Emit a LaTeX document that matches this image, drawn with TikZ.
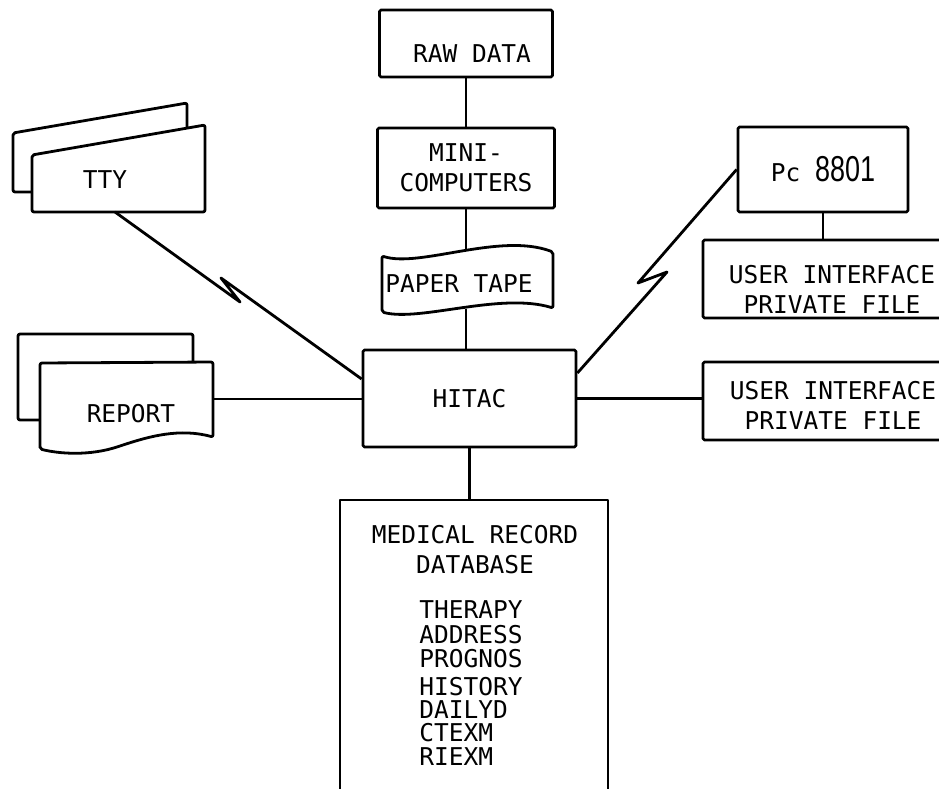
\documentclass[tikz,border=0pt]{standalone}
\usepackage{fontspec}
\setmonofont{DejaVu Sans Mono}
\newfontfamily\digitfont{Liberation Sans}
\usepackage{graphicx}

\begin{document}
\begin{tikzpicture}[x=1pt, y=-1pt, line width=2.8pt, line join=round,
    font=\ttfamily\fontsize{24.5}{30}\selectfont,
    box/.style={rectangle, draw, rounded corners=1.5pt, inner sep=0pt, align=center},
    txt/.style={inner sep=0pt, align=center},
    sheet/.style={draw, rounded corners=2pt, fill=white}
]
    \useasboundingbox (0,0) rectangle (939,789);
    \clip (0,0) rectangle (939,789);

    % centre column
    \node[box, minimum width=173pt, minimum height=67pt] (raw) at (466,43.5) {};
    \node[txt] (rawtext) at (472,54) {RAW DATA};
    \node[box, minimum width=177pt, minimum height=80pt] (mini) at (466,168) {MINI-\\COMPUTERS};
    \node[minimum width=171pt, minimum height=57pt] (tape) at (466,279.5) {};
    \draw[sheet] (382,256) .. controls (420,268) and (500,232) .. (553,252) -- (553,308)
        .. controls (500,292) and (420,322) .. (382,312) -- cycle;
    \node[txt] (tapetext) at (459,284) {PAPER TAPE};
    \node[box, minimum width=213pt, minimum height=97pt] (hitac) at (469.5,398.5) {HITAC};

    % database
    \coordinate (dbtop) at (467,500);
    \draw (340,789) -- (340,500) -- (608,500) -- (608,789);
    \node[txt] (dbtitle) at (475,550) {MEDICAL RECORD\\DATABASE};
    \foreach \name/\y in {THERAPY/610, ADDRESS/635, PROGNOS/659, HISTORY/687,
                          DAILYD/710, CTEXM/733, RIEXM/757}
        \node[txt, anchor=west] (db-\name) at (418,\y) {\name};

    % TTY
    \draw[sheet] (32,192) -- (13,192) -- (13,133) -- (187,103) -- (187,128);
    \draw[sheet] (32,155) -- (205,125) -- (205,212) -- (32,212) -- cycle;
    \node[txt] (tty) at (105,180) {TTY};
    \coordinate (ttyfoot) at (115,212);

    % report
    \draw[sheet] (40,420) -- (18,420) -- (18,334) -- (193,334) -- (193,362);
    \draw[sheet] (40,449) -- (40,363) -- (213,362) -- (213,437)
        .. controls (180,428) and (150,436) .. (120,446)
        .. controls (90,456) and (60,454) .. (40,449) -- cycle;
    \node[txt] (report) at (131,414) {REPORT};
    \coordinate (repright) at (213,399);

    % right side
    \node[box, minimum width=170pt, minimum height=85pt] (pc) at (823,169.5)
        {Pc \scalebox{0.75}[1]{\digitfont\fontsize{36}{36}\selectfont 8801}};
    \node[box, minimum width=258pt, minimum height=78pt] (ui1) at (832,279) {};
    \node[txt] (ui1text) at (832,289) {USER INTERFACE\\PRIVATE FILE};
    \node[box, minimum width=258pt, minimum height=78pt] (ui2) at (832,401) {};
    \node[txt] (ui2text) at (833,405) {USER INTERFACE\\PRIVATE FILE};

    % connections
    \draw (raw) -- (mini);
    \draw (mini) -- (tape);
    \draw (tape.south) -- (tape.south |- hitac.north);
    \draw (hitac.south) -- (hitac.south |- dbtop);
    \draw (repright) -- (repright -| hitac.west);
    \draw (hitac.east) -- (hitac.east -| ui2.west);
    \draw (pc.south) -- (pc.south |- ui1.north);
    \draw (ttyfoot) -- (240,302) -- (221,278) -- ([yshift=19.5pt]hitac.west);
    \draw ([yshift=25.5pt]hitac.east) -- (667,272) -- (638,283) -- (pc.west);
\end{tikzpicture}
\end{document}
